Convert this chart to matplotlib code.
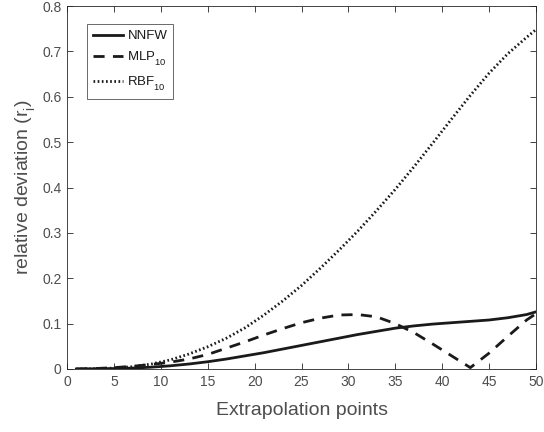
import matplotlib
matplotlib.use("Agg")
import matplotlib.pyplot as plt

try:
    import matplotlib._mathtext as _mt
    _mt.FontConstantsBase.sub1 = 0.75
    _mt.FontConstantsBase.sub2 = 0.9
except Exception:
    pass

x = [1, 3, 5, 7, 9, 11, 13, 15, 17, 19, 21, 23, 25, 27, 29, 31, 33, 35, 37, 39, 41, 43, 45, 47, 49, 50]
nnfw = [0.0, 0.0005, 0.001, 0.002, 0.004, 0.007, 0.011, 0.016, 0.022, 0.029, 0.036, 0.044, 0.052,
        0.060, 0.068, 0.076, 0.083, 0.090, 0.095, 0.099, 0.102, 0.105, 0.108, 0.113, 0.120, 0.126]
mlp = [0.0, 0.001, 0.003, 0.006, 0.010, 0.015, 0.022, 0.032, 0.046, 0.060, 0.075, 0.089, 0.102,
       0.112, 0.119, 0.120, 0.115, 0.100, 0.080, 0.055, 0.029, 0.003, 0.035, 0.072, 0.108, 0.122]
rbf = [0.0, 0.0005, 0.002, 0.005, 0.011, 0.020, 0.033, 0.049, 0.068, 0.091, 0.119, 0.150, 0.184,
       0.222, 0.262, 0.304, 0.349, 0.396, 0.446, 0.498, 0.551, 0.603, 0.652, 0.695, 0.731, 0.748]

xticks = [0, 5, 10, 15, 20, 25, 30, 35, 40, 45, 50]
yticks = [0, 0.1, 0.2, 0.3, 0.4, 0.5, 0.6, 0.7, 0.8]
ytick_labels = ['0', '0.1', '0.2', '0.3', '0.4', '0.5', '0.6', '0.7', '0.8']

plt.rcParams['font.family'] = ['Liberation Sans', 'DejaVu Sans']
plt.rcParams['mathtext.fontset'] = 'custom'
plt.rcParams['mathtext.rm'] = 'Liberation Sans'
plt.rcParams['mathtext.it'] = 'Liberation Sans'

fig = plt.figure(figsize=(5.44, 4.32), dpi=100)
ax = fig.add_axes([67/544, 63/432, 469/544, 363/432])

axc = '#262626'
lc = '#1a1a1a'
ax.plot(x, nnfw, color=lc, lw=2.0, ls='-', label='NNFW')
ax.plot(x, mlp, color=lc, lw=2.0, ls=(0, (4, 3)), label='MLP$_{10}$')
ax.plot(x, rbf, color=lc, lw=2.0, ls=(0, (0.6, 0.9)), label='RBF$_{10}$')

ax.set_xlim(0, 50)
ax.set_ylim(0, 0.8)
ax.set_xticks(xticks)
ax.set_xticklabels([str(t) for t in xticks])
ax.set_yticks(yticks)
ax.set_yticklabels(ytick_labels)
ax.tick_params(direction='in', top=True, right=True, length=4.5, width=0.6,
               colors=axc, labelsize=10, labelcolor='#4d4d4d', pad=4)
for s in ax.spines.values():
    s.set_color(axc)
    s.set_linewidth(0.6)

ax.set_xlabel('Extrapolation points', fontsize=14, color='#4d4d4d', labelpad=10)
ax.set_ylabel('relative deviation (r$_i$)', fontsize=14, color='#4d4d4d', labelpad=3)

leg = ax.legend(loc='upper left', bbox_to_anchor=(0.043, 0.95), fontsize=9.5,
                frameon=True, fancybox=False, edgecolor=axc, handlelength=2.3,
                handletextpad=0.3, borderpad=0.45, labelspacing=0.55, borderaxespad=0)
leg.get_frame().set_linewidth(0.6)
for t in leg.get_texts():
    t.set_color('#1a1a1a')

fig.savefig('out.png', dpi=100)
